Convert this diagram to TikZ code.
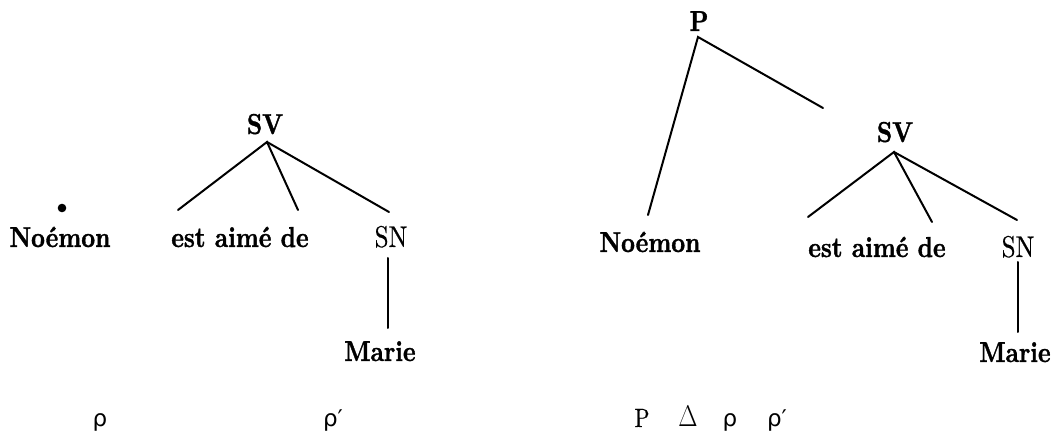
\documentclass[tikz,border=0pt]{standalone}
\usepackage{fontspec}
\newfontfamily\lbf{lmroman10-bold.otf}[FakeStretch=0.833,FakeBold=1.2]
\newfontfamily\lrm{lmroman10-regular.otf}[FakeStretch=0.833,FakeBold=0.5]
\newfontfamily\grk{DejaVu Sans}
\begin{document}
\begin{tikzpicture}[x=1pt,y=-1pt,
  lab/.style={anchor=base,inner sep=0pt,font=\fontsize{28.8}{32}\lbf},
  cat/.style={anchor=base,inner sep=0pt,font=\fontsize{30}{34}\lrm},
  sym/.style={anchor=base,inner sep=0pt,font=\fontsize{26.4}{30}\lrm},
  gsym/.style={anchor=base,inner sep=0pt,font=\fontsize{23}{27}\grk},
  branch/.style={line width=2pt,line cap=round}]
\useasboundingbox (0,0) rectangle (1053,438);
% ---- left structure ----
\node[lab] (lSV) at (265,134) {SV};
\node[lab] (lNoe) at (60,247) {Noémon};
\node[lab] (lEst) at (240,247) {est aimé de};
\node[cat] (lSN) at (391,247) {SN};
\node[lab] (lMarie) at (380,361) {Marie};
\fill (62,208) circle (4.3);
\coordinate (lA) at (267,142);
\coordinate (lE1) at (178,210);
\coordinate (lE2) at (298,210);
\coordinate (lE3) at (389,212);
\coordinate (lN1) at (388,258);
\coordinate (lN2) at (388,328);
\draw[branch] (lE1) -- (lA) -- (lE2);
\draw[branch] (lA) -- (lE3);
\draw[branch] (lN1) -- (lN2);
% ---- right structure ----
\node[lab] (rP) at (699,31) {P};
\node[lab] (rSV) at (895,142) {SV};
\node[lab] (rNoe) at (650,252) {Noémon};
\node[lab] (rEst) at (877,257) {est aimé de};
\node[cat] (rSN) at (1018,257) {SN};
\node[lab] (rMarie) at (1015,362) {Marie};
\coordinate (rPA) at (698,37);
\coordinate (rPE1) at (648,215);
\coordinate (rPE2) at (823,108);
\draw[branch] (rPE1) -- (rPA) -- (rPE2);
\coordinate (rA) at (894,152);
\coordinate (rE1) at (808,217);
\coordinate (rE2) at (932,222);
\coordinate (rE3) at (1017,220);
\draw[branch] (rE1) -- (rA) -- (rE2);
\draw[branch] (rA) -- (rE3);
\coordinate (rN1) at (1018,262);
\coordinate (rN2) at (1018,332);
\draw[branch] (rN1) -- (rN2);
% ---- bottom symbols ----
\node[gsym] (s1) at (100,427) {ρ};
\node[gsym] (s2) at (333,427) {ρ′};
\node[sym] (s3) at (642,427) {P};
\node[sym] (s4) at (688,427) {\scalebox{1}[1.2]{\fontsize{23}{27}\selectfont$\Delta$}};
\node[gsym] (s5) at (730,427) {ρ};
\node[gsym] (s6) at (777,427) {ρ′};
\end{tikzpicture}
\end{document}
